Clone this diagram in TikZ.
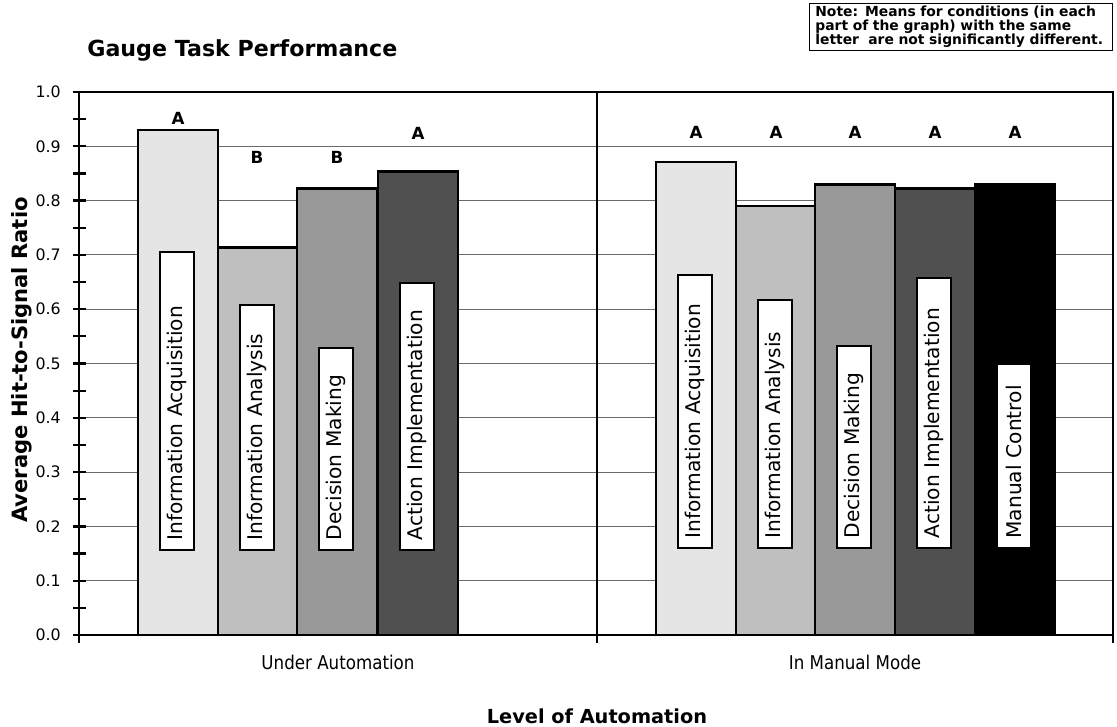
\documentclass[tikz,border=0pt]{standalone}
\usepackage{fontspec}
\setmainfont{DejaVu Sans}
\newfontfamily\condfont[FakeStretch=0.88]{DejaVu Sans}
\usetikzlibrary{positioning}
\definecolor{BarOne}{RGB}{229,229,229}
\definecolor{BarTwo}{RGB}{191,191,191}
\definecolor{BarThree}{RGB}{153,153,153}
\definecolor{BarFour}{RGB}{80,80,80}
\definecolor{BarFive}{RGB}{0,0,0}
\definecolor{GridColor}{RGB}{105,105,105}
\tikzset{
  bar/.style={draw=black, line width=1.6pt},
  grid line/.style={GridColor, line width=0.5pt},
  axis line/.style={black, line width=1.7pt},
  tick label/.style={anchor=east, font=\fontsize{9}{10}\selectfont},
  bar label/.style={draw=black, fill=white, line width=1.2pt, rotate=90, anchor=west,
    minimum height=34*0.02cm, inner xsep=0.19cm, inner ysep=1pt, align=left,
    font=\fontsize{11.5}{13}\selectfont},
  group letter/.style={font=\bfseries\fontsize{9.5}{10}\selectfont},
  category/.style={font=\condfont\fontsize{10.8}{12}\selectfont}
}
\begin{document}
\begin{tikzpicture}[x=0.02cm, y=-0.02cm]
  \useasboundingbox (0,0) rectangle (1117,727);

  % Title and note
  \node[anchor=base west, inner xsep=0pt, font=\bfseries\fontsize{12.6}{14}\selectfont] (title) at (87,56) {Gauge Task Performance};
  \node[draw, line width=0.8pt, anchor=north east, align=left, inner xsep=0.12cm, inner ysep=1.5pt,
    text width=5.82cm, font=\bfseries\fontsize{7.9}{7.9}\selectfont] (note) at (1113,3)
    {Note: Means for conditions (in each\\part of the graph) with the same\\letter~~are not significantly different.};

  % Grid lines
  \foreach \k in {1,...,9}
    \draw[grid line] (79,{635-54.3*\k}) -- (1113,{635-54.3*\k});

  % Under automation bars
  \foreach \x/\v/\c/\txt/\len [count=\i] in {138/0.930/BarOne/Information Acquisition/298,
      218/0.713/BarTwo/Information Analysis/245,
      297/0.823/BarThree/Decision Making/202,
      378/0.853/BarFour/Action Implementation/267}{
    \draw[bar, fill=\c] (\x,635) rectangle (\x+80,{635-543*\v});
    \node[bar label, text width=\len*0.02cm-0.38cm] (ua\i) at (\x+39,551) {\txt};
  }

  % Manual mode bars
  \foreach \x/\v/\c/\txt/\len [count=\i] in {656/0.871/BarOne/Information Acquisition/273,
      736/0.790/BarTwo/Information Analysis/248,
      815/0.829/BarThree/Decision Making/202,
      895/0.823/BarFour/Action Implementation/270,
      975/0.830/BarFive/Manual Control/184}{
    \draw[bar, fill=\c] (\x,635) rectangle (\x+80,{635-543*\v});
    \node[bar label, text width=\len*0.02cm-0.38cm] (mm\i) at (\x+39,549) {\txt};
  }

  % Letters
  \node[group letter] (ltA) at (178,118) {A};
  \node[group letter] (ltB) at (257,157) {B};
  \node[group letter] (ltC) at (337,157) {B};
  \node[group letter] (ltD) at (418,133) {A};
  \foreach \x [count=\i] in {696,776,855,935,1015}
    \node[group letter] (mlt\i) at (\x,132) {A};

  % Frame and axes
  \draw[axis line] (79,92) -- (1113,92) -- (1113,643);
  \draw[axis line] (597,92) -- (597,643);
  \draw[axis line] (79,92) -- (79,643);
  \draw[axis line] (74,635) -- (1113,635);
  \foreach \k in {0,...,20}
    \draw[black, line width=1.3pt] (73,{635-27.15*\k}) -- (86,{635-27.15*\k});

  % Tick labels
  \foreach \k/\lab in {0/0.0,1/0.1,2/0.2,3/0.3,4/0.4,5/0.5,6/0.6,7/0.7,8/0.8,9/0.9,10/1.0}
    \node[tick label] (y\k) at (67,{635-54.3*\k}) {\lab};

  % Axis titles
  \node[rotate=90, font=\bfseries\fontsize{12}{14}\selectfont] (ylabel) at (22,360) {Average Hit-to-Signal Ratio};
  \node[category] (under) at (338,662) {Under Automation};
  \node[category] (manual) at (855,662) {In Manual Mode};
  \node[anchor=base, inner ysep=0pt, font=\bfseries\fontsize{11}{12}\selectfont] (level) at (597,723) {Level of Automation};
\end{tikzpicture}
\end{document}
